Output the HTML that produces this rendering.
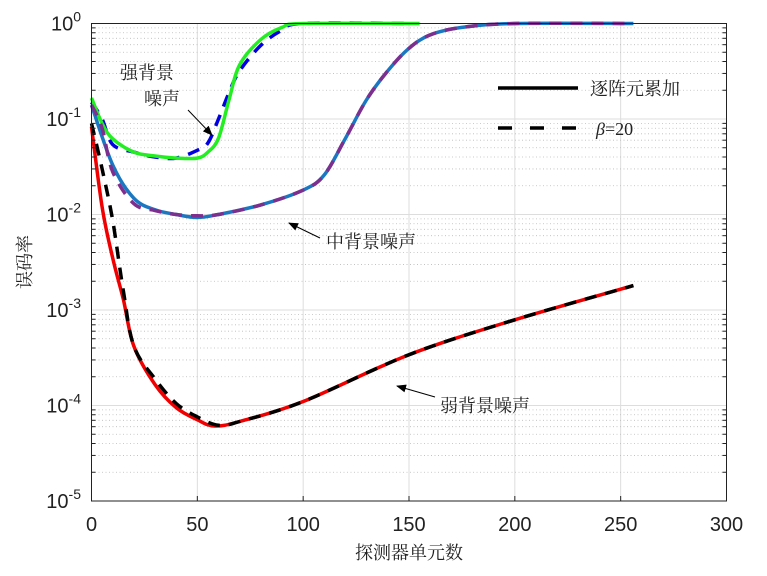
<!DOCTYPE html>
<html><head><meta charset="utf-8"><style>
body{margin:0;background:#fff}
svg{display:block;font-family:"Liberation Sans","Noto Sans CJK SC",sans-serif}
.cn{font-family:"Liberation Serif","Noto Serif CJK SC",serif}
</style></head><body>
<svg id="chart" width="767" height="576" viewBox="0 0 767 576">
<g id="grid"></g>
<g id="series"></g>
<rect x="91.5" y="23.5" width="635" height="477.5" fill="none" stroke="#222" stroke-width="1"/>
<g id="ticks"></g>
<text x="409" y="559" font-size="18" text-anchor="middle" class="cn" fill="#222">探测器单元数</text>
<text x="0" y="0" font-size="18" text-anchor="middle" class="cn" fill="#222" transform="translate(31,262) rotate(-90)">误码率</text>
<g>
<line x1="498" y1="88" x2="578" y2="88" stroke="#000" stroke-width="3.5"/>
<text x="590" y="95" font-size="18" class="cn" fill="#222">逐阵元累加</text>
<line x1="498" y1="128" x2="578" y2="128" stroke="#000" stroke-width="3.5" stroke-dasharray="14,18"/>
<text x="596" y="135" font-size="18" class="cn" fill="#222"><tspan font-style="italic">β</tspan>=20</text>
</g>
<g class="cn" font-size="18" fill="#222">
<text x="120" y="79">强背景</text>
<text x="144" y="105">噪声</text>
<text x="326" y="248">中背景噪声</text>
<text x="440" y="412">弱背景噪声</text>
</g>
<defs><marker id="ah" markerWidth="10" markerHeight="8" refX="9" refY="4" orient="auto"><path d="M0,0 L10,4 L0,8 Z" fill="#000"/></marker></defs>
<line x1="188" y1="110" x2="212" y2="135" stroke="#000" stroke-width="1" marker-end="url(#ah)"/>
<line x1="320" y1="238" x2="289" y2="223" stroke="#000" stroke-width="1" marker-end="url(#ah)"/>
<line x1="435" y1="397" x2="397" y2="386" stroke="#000" stroke-width="1" marker-end="url(#ah)"/>
</svg>
<script>
const xTicks=[0,50,100,150,200,250,300];
const yExps=[0,-1,-2,-3,-4,-5];
const redX=[0,5,10,15,20,30,40,50,58,70,100,150,200,256];
const redY=[0.083,0.012,0.0035,0.0013,4.2e-4,1.66e-4,9.5e-5,7.1e-5,6.1e-5,6.8e-5,1.1e-4,3.4e-4,7.9e-4,1.8e-3];
const blackX=[0,5,10,15,20,30,40,50,60,70,100,150,200,256];
const blackY=[0.09,0.03,0.0087,0.0016,4.2e-4,1.9e-4,1.05e-4,7.6e-5,6.2e-5,6.8e-5,1.1e-4,3.4e-4,7.9e-4,1.8e-3];
const greenX=[0,5,10,20,30,40,50,55,60,65,70,80,90,100,155];
const greenY=[0.166,0.09,0.062,0.045,0.041,0.039,0.039,0.045,0.063,0.16,0.37,0.68,0.91,1,1];
const blueDX=[0,5,10,20,30,40,50,55,60,65,70,80,90,100,150];
const blueDY=[0.15,0.1,0.054,0.045,0.04,0.039,0.047,0.056,0.1,0.19,0.32,0.59,0.85,1,1];
const midX=[0,10,20,30,40,50,60,80,100,110,120,130,140,150,160,175,200,256];
const midY=[0.14,0.033,0.0148,0.0112,0.01,0.0093,0.01,0.0126,0.018,0.026,0.063,0.16,0.32,0.55,0.76,0.91,1,1];
const purX=[0,5,10,20,30,40,50,60,80,100,110,120,130,140,150,160,175,200,256];
const purY=[0.14,0.08,0.028,0.013,0.011,0.01,0.0097,0.01,0.0126,0.018,0.026,0.063,0.16,0.32,0.55,0.76,0.91,1,1];
const L=91.5,R=726.5,T=23.5,B=501;
const sx=v=>L+(v-0)/(300-0)*(R-L);
const sy=v=>T-Math.log10(v)/5*(B-T);
const NS="http://www.w3.org/2000/svg";
function mk(tag,attrs,parent){const e=document.createElementNS(NS,tag);for(const k in attrs)e.setAttribute(k,attrs[k]);parent.appendChild(e);return e;}
const grid=document.getElementById('grid'),ticks=document.getElementById('ticks'),ser=document.getElementById('series');
xTicks.forEach(t=>{
  const x=sx(t);
  const g=mk('line',{x1:x,x2:x,y1:T,y2:B,stroke:'#ddd','stroke-width':1},grid);
  
  
  mk('line',{x1:x,x2:x,y1:B,y2:B-5,stroke:'#222'},ticks);
  const tl=mk('text',{x:x,y:531,'font-size':20,'text-anchor':'middle',fill:'#222'},ticks);
  tl.textContent=t;
  
  
});
yExps.forEach(e=>{
  const y=sy(Math.pow(10,e));
  const g=mk('line',{x1:L,x2:R,y1:y,y2:y,stroke:'#ddd','stroke-width':1},grid);
  
  
  if(e>-5){for(let m=2;m<=9;m++){const yy=sy(m*Math.pow(10,e-1));
    const mg=mk('line',{x1:L,x2:R,y1:yy,y2:yy,stroke:'#bbb','stroke-width':0.8,'stroke-dasharray':'1,2.5'},grid);
    
    
    mk('line',{x1:R-4,x2:R,y1:yy,y2:yy,stroke:'#222'},ticks);
    mk('line',{x1:L,x2:L+4,y1:yy,y2:yy,stroke:'#222'},ticks);
  }}
  const tl=mk('text',{x:81,y:y+7,'font-size':20,'text-anchor':'end',fill:'#222'},ticks);
  
  
  tl.innerHTML='10<tspan dy="-9" font-size="14">'+e+'</tspan>';
});
function series(xs,ys,color,dash,name){
  const P=xs.map((x,i)=>[sx(x),sy(ys[i])]);
  let d='M'+P[0][0].toFixed(1)+','+P[0][1].toFixed(1);
  for(let i=0;i<P.length-1;i++){
    const p0=P[Math.max(i-1,0)],p1=P[i],p2=P[i+1],p3=P[Math.min(i+2,P.length-1)];
    const k=1/6;
    const c1=[p1[0]+(p2[0]-p0[0])*k,p1[1]+(p2[1]-p0[1])*k];
    const c2=[p2[0]-(p3[0]-p1[0])*k,p2[1]-(p3[1]-p1[1])*k];
    d+=' C'+c1.map(v=>v.toFixed(1)).join(',')+' '+c2.map(v=>v.toFixed(1)).join(',')+' '+p2.map(v=>v.toFixed(1)).join(',');
  }
  const p=mk('path',{d:d,fill:'none',stroke:color,'stroke-width':3.5,'stroke-linejoin':'round'},ser);
  if(dash)p.setAttribute('stroke-dasharray','12,9');
  
  
}
series(blueDX,blueDY,'#0000e0',true,'strong-beta-line');
series(greenX,greenY,'#22ee22',false,'strong-accum-line');
series(midX,midY,'#1a78c2',false,'medium-accum-line');
series(purX,purY,'#7e2f8e',true,'medium-beta-line');
series(redX,redY,'#f00000',false,'weak-accum-line');
series(blackX,blackY,'#000',true,'weak-beta-line');
</script>
</body></html>
